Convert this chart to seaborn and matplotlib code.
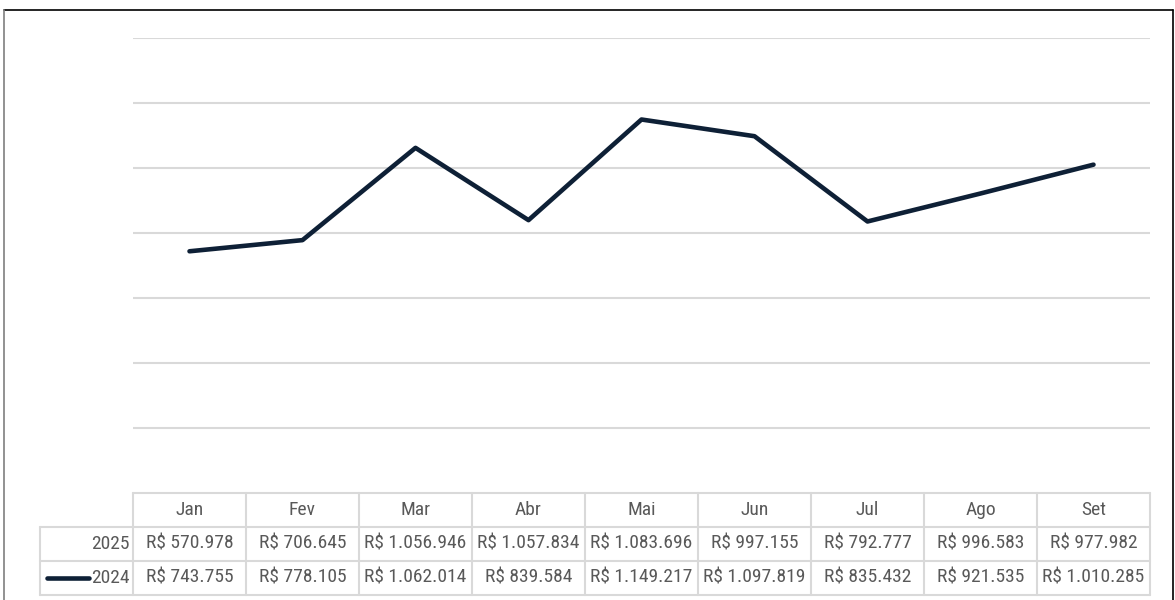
import matplotlib
matplotlib.use('Agg')
import matplotlib.pyplot as plt
from matplotlib.lines import Line2D
import seaborn as sns
import pandas

months = ['Jan', 'Fev', 'Mar', 'Abr', 'Mai', 'Jun', 'Jul', 'Ago', 'Set']
v2025 = [570978, 706645, 1056946, 1057834, 1083696, 997155, 792777, 996583, 977982]
v2024 = [743755, 778105, 1062014, 839584, 1149217, 1097819, 835432, 921535, 1010285]
series = ['2025', '2024']

def brl(v):
    return 'R$ ' + f'{v:,}'.replace(',', '.')

sns.set_theme(style='white')
plt.rcParams['font.family'] = ['Roboto Condensed', 'Liberation Sans', 'DejaVu Sans']

W, H = 1175, 600
fig = plt.figure(figsize=(W / 100, H / 100), dpi=100)
ax = fig.add_axes([133 / W, 1 - 493 / H, (1150 - 133) / W, (493 - 38) / H])

navy = '#0e2036'
text_col = '#595959'
grid_col = '#d9d9d9'

df = pandas.DataFrame({'mes': months, 'valor': v2024})
sns.lineplot(df, x='mes', y='valor', ax=ax, color=navy, linewidth=3.3,
             solid_joinstyle='round', solid_capstyle='round', sort=False)

n = len(months)
ax.set_xlim(-0.5, n - 0.5)
ax.set_ylim(0, 1400000)
ax.set_yticks(range(200000, 1400001, 200000))
ax.yaxis.grid(True, color=grid_col, linewidth=1.5)
ax.xaxis.grid(False)
ax.tick_params(left=False, bottom=False, labelleft=False, labelbottom=False)
ax.set_xlabel('')
ax.set_ylabel('')
for s in ax.spines.values():
    s.set_visible(False)

# data table below the plot (x in data units, y in axes units)
trans = ax.get_xaxis_transform()
col_px = (1150 - 133) / n
row_h = 34 / (493 - 38)
lab_left = -0.5 - (133 - 40) / col_px
rows_y = [0, -row_h, -2 * row_h, -3 * row_h]
fs = 14
line_kw = dict(color=grid_col, linewidth=1.5, transform=trans, clip_on=False)

# horizontal borders
ax.plot([-0.5, n - 0.5], [0, 0], **line_kw)
for y in rows_y[1:]:
    ax.plot([lab_left, n - 0.5], [y, y], **line_kw)
# vertical borders
for k in range(n + 1):
    ax.plot([k - 0.5, k - 0.5], [0, rows_y[-1]], **line_kw)
ax.plot([lab_left, lab_left], [rows_y[1], rows_y[-1]], **line_kw)

for j, m in enumerate(months):
    ax.text(j, -row_h / 2, m, transform=trans, ha='center', va='center',
            fontsize=fs, color=text_col)
for i, (name, vals) in enumerate(zip(series, [v2025, v2024])):
    yc = -row_h * (i + 1.5)
    ax.text(-0.5 - 3 / col_px, yc, name, transform=trans, ha='right', va='center',
            fontsize=fs, color=text_col)
    for j, v in enumerate(vals):
        ax.text(j, yc, brl(v), transform=trans, ha='center', va='center',
                fontsize=fs, color=text_col)

# legend key for 2024
ax.plot([lab_left + 7 / col_px, lab_left + 49 / col_px], [-row_h * 2.5, -row_h * 2.5],
        color=navy, linewidth=3.3, solid_capstyle='round', transform=trans, clip_on=False)

# chart border
fig.add_artist(Line2D([4 / W, 1173 / W], [1 - 10 / H, 1 - 10 / H], color='black', linewidth=1.2))
fig.add_artist(Line2D([1173 / W, 1173 / W], [0, 1 - 10 / H], color='black', linewidth=1.2))
fig.add_artist(Line2D([4 / W, 4 / W], [0, 1 - 10 / H], color='#7f7f7f', linewidth=1.2))

fig.savefig('out.png', dpi=100)
